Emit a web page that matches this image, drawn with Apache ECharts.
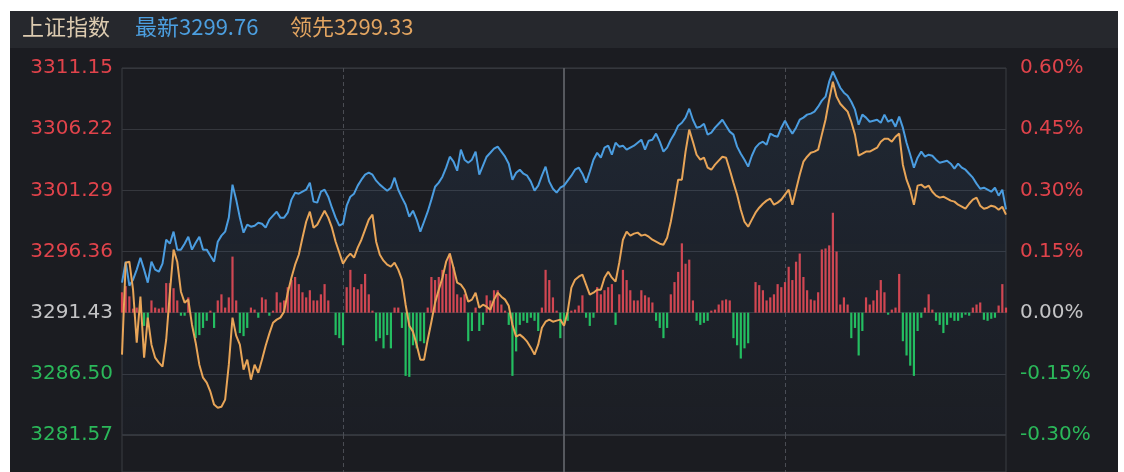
<!DOCTYPE html>
<html><head><meta charset="utf-8">
<script src="https://cdn.jsdelivr.net/npm/echarts@6/dist/echarts.min.js"></script>
<style>
html,body{margin:0;padding:0;background:#fff;width:1124px;height:472px;overflow:hidden}
#panel{position:absolute;left:10px;top:11px;width:1108px;height:461px;background:#1b1c21}
#head{position:absolute;left:10px;top:11px;width:1108px;height:37px;background:#26282d}
#chart{position:absolute;left:0;top:0;width:1124px;height:472px}
</style></head><body>
<div id="panel"></div><div id="head"></div><div id="chart"></div>
<script>
// Tick labels
const leftLabels = ['3281.57','3286.50','3291.43','3296.36','3301.29','3306.22','3311.15'];
const rightLabels = ['-0.30%','-0.15%','0.00%','0.15%','0.30%','0.45%','0.60%'];
const prevClose = 3291.43;

// 最新 (blue) price per minute
const latest = [
3293.85,3295.54,3293.61,3294.09,3294.90,3295.86,3294.90,3293.85,3295.54,3294.90,
3294.73,3295.38,3297.31,3296.99,3297.96,3296.51,3296.51,3296.99,3297.55,3296.51,
3297.07,3297.55,3296.51,3296.51,3296.02,3295.54,3297.15,3297.64,3297.96,3299.09,
3301.75,3300.54,3299.09,3297.88,3298.52,3298.36,3298.44,3298.68,3298.60,3298.28,
3298.93,3299.25,3299.57,3299.09,3299.09,3299.49,3300.54,3301.10,3301.02,3301.18,
3301.34,3301.91,3300.38,3300.30,3301.18,3301.34,3300.78,3299.89,3299.09,3298.44,
3298.60,3300.05,3300.78,3301.02,3301.67,3302.15,3302.55,3302.71,3302.55,3302.07,
3301.75,3301.50,3301.26,3301.50,3302.31,3301.34,3300.70,3300.13,3299.17,3299.65,
3298.93,3297.96,3298.76,3299.57,3300.54,3301.58,3301.91,3302.39,3303.12,3304.00,
3303.60,3302.87,3304.57,3303.76,3303.52,3303.76,3304.41,3302.55,3303.28,3304.00,
3304.32,3304.65,3304.81,3304.41,3304.00,3303.44,3302.15,3302.71,3302.95,3302.63,
3302.47,3301.99,3301.26,3301.67,3302.47,3303.20,3301.99,3301.42,3301.10,3301.50,
3301.67,3302.07,3302.47,3302.95,3303.12,3302.63,3301.91,3302.79,3303.76,3304.32,
3303.92,3304.73,3304.89,3304.16,3305.13,3304.81,3304.89,3304.57,3304.73,3304.89,
3305.13,3305.37,3304.57,3305.29,3305.37,3305.86,3305.21,3304.41,3304.73,3305.37,
3305.86,3306.50,3306.74,3307.15,3307.87,3306.98,3306.34,3306.42,3306.66,3305.78,
3305.94,3306.34,3306.66,3306.98,3306.50,3306.02,3305.78,3304.81,3304.24,3303.76,
3303.20,3304.08,3304.73,3305.05,3305.21,3304.97,3305.86,3305.69,3305.61,3306.34,
3306.90,3306.34,3305.86,3306.34,3306.98,3307.15,3307.39,3307.47,3307.63,3308.03,
3308.52,3308.84,3310.05,3310.85,3310.21,3309.56,3309.16,3308.92,3308.43,3307.79,
3306.58,3307.39,3307.15,3306.82,3306.90,3306.98,3306.74,3307.39,3306.82,3306.98,
3306.42,3307.23,3306.34,3305.13,3304.16,3303.12,3303.92,3304.41,3304.00,3304.16,
3304.08,3303.76,3303.52,3303.60,3303.68,3303.44,3303.04,3303.44,3303.12,3302.95,
3302.63,3302.31,3301.83,3301.42,3301.50,3301.34,3301.18,3301.50,3300.86,3301.34,3299.76
];

// 领先 (orange) per minute
const leading = [
3288.05,3295.46,3295.54,3293.28,3289.01,3292.72,3287.80,3291.03,3288.85,3287.80,
3287.40,3287.08,3289.25,3293.04,3296.51,3295.54,3293.12,3292.24,3292.48,3290.46,
3289.01,3287.24,3286.19,3285.79,3285.06,3284.02,3283.77,3283.85,3284.42,3287.24,
3291.03,3289.58,3288.85,3286.84,3287.64,3286.03,3287.24,3286.59,3287.64,3288.77,
3289.74,3290.62,3290.87,3291.03,3291.51,3293.04,3294.25,3295.30,3296.10,3297.47,
3298.76,3299.57,3298.28,3298.52,3299.09,3299.65,3299.09,3298.28,3297.15,3296.27,
3295.38,3295.86,3296.19,3295.86,3296.67,3297.31,3298.12,3298.93,3299.33,3297.15,
3296.10,3295.62,3295.30,3295.14,3295.46,3294.90,3294.09,3292.07,3290.38,3289.90,
3288.85,3287.64,3287.64,3289.25,3290.70,3292.24,3293.28,3294.25,3295.54,3296.19,
3295.06,3293.85,3293.69,3293.28,3292.32,3292.48,3293.04,3291.83,3292.07,3291.91,
3291.67,3292.48,3293.04,3292.72,3292.48,3291.99,3290.46,3289.50,3289.66,3289.42,
3289.09,3288.61,3288.05,3288.85,3290.22,3290.70,3290.87,3290.70,3290.79,3290.87,
3290.38,3291.51,3293.45,3294.09,3294.33,3294.49,3293.69,3292.88,3293.04,3293.28,
3293.28,3294.25,3294.73,3294.25,3293.93,3295.46,3297.31,3297.96,3297.64,3297.80,
3297.88,3297.64,3297.72,3297.55,3297.31,3297.15,3296.99,3296.91,3297.47,3298.76,
3300.38,3302.15,3302.15,3304.41,3306.18,3305.21,3304.16,3303.76,3303.92,3303.12,
3302.95,3303.36,3303.68,3304.00,3303.92,3302.95,3301.91,3300.94,3299.73,3298.76,
3298.36,3298.93,3299.49,3299.89,3300.21,3300.46,3300.62,3300.13,3300.30,3300.54,
3300.94,3301.34,3300.13,3301.34,3302.55,3303.60,3304.00,3304.32,3304.41,3304.57,
3305.78,3306.98,3308.60,3310.05,3308.84,3308.27,3307.95,3307.63,3306.82,3305.78,
3304.08,3304.24,3304.41,3304.41,3304.57,3304.73,3305.21,3305.45,3305.45,3305.21,
3305.61,3305.86,3303.36,3302.15,3301.34,3300.13,3301.67,3301.75,3301.50,3301.67,
3301.18,3300.86,3300.70,3300.78,3300.62,3300.46,3300.38,3300.13,3299.97,3299.81,
3300.21,3300.54,3300.70,3300.05,3299.81,3299.89,3300.05,3299.97,3299.73,3299.97,3299.33
];

// per-minute bars (red up / green down), arbitrary units
const flow = [
20,26,16,4,5,7,-13,-12,12,5,
4,5,29,29,24,12,-3,-3,15,0,
-25,-22,-15,-8,2,-15,12,18,5,15,
55,12,-20,-23,-15,5,3,-5,15,13,
-3,2,20,10,12,25,32,35,28,20,
15,22,12,12,18,28,12,0,-22,-25,
-32,25,42,25,23,28,38,18,2,-28,
-25,-35,-22,-35,5,5,-15,-62,-63,-32,
-35,-28,-30,5,35,32,35,42,38,58,
45,18,15,18,-28,-18,5,-18,-12,17,
12,22,22,8,2,-12,-62,-38,-12,-8,
-10,-5,-8,-18,5,42,32,15,2,-25,
-12,-8,2,3,7,17,-5,-13,-5,25,
18,22,25,28,-12,18,42,32,22,12,
12,22,17,15,10,-8,-15,-25,-15,18,
30,40,68,48,52,12,-8,-12,-10,-8,
2,3,8,12,13,12,-25,-32,-45,-35,
-30,0,30,27,22,12,15,18,28,25,
30,45,32,50,58,35,22,13,12,20,
62,63,66,98,60,8,15,8,-25,-15,
-42,-18,15,8,12,22,32,20,-2,3,
5,38,-28,-42,-52,-62,-18,-5,5,18,
3,-8,-12,-20,-12,-5,-8,-8,-5,-2,
-3,5,8,10,-7,-8,-6,-5,7,28,5
];

// minute categories 09:30-11:30, 13:00-15:00
const minutes = [];
function pad(n){return (n<10?'0':'')+n;}
for (let t = 9*60+30; t <= 11*60+30; t++) minutes.push(pad(Math.floor(t/60))+':'+pad(t%60));
for (let t = 13*60+1; t <= 15*60; t++) minutes.push(pad(Math.floor(t/60))+':'+pad(t%60));

const RED = '#e0434b', GREEN = '#2bb85a', GRAY = '#c4c4c6';
function leftColor(v){ const n = parseFloat(v); return Math.abs(n-prevClose)<0.001 ? GRAY : (n>prevClose ? RED : GREEN); }
function rightColor(v){ const n = parseFloat(v); return Math.abs(n)<0.0001 ? GRAY : (n>0 ? RED : GREEN); }

const chart = echarts.init(document.getElementById('chart'), null, {renderer:'canvas'});
const numFont = 'DejaVu Sans';
const cjk = 'Noto Sans CJK SC';
function xAx(grid, pos, intervalFn, lineStyle){
  return {type:'category', gridIndex:grid, position:pos, data:minutes, boundaryGap:false,
    axisLine:{show:false}, axisTick:{show:false}, axisLabel:{show:false},
    splitLine:{show:true, interval:intervalFn, lineStyle:lineStyle}};
}
const solidSplit = (i)=> i===120;
const dashSplit = (i)=> i===60 || i===180;
const solidStyle = {color:'#56585e', width:2};
const dashStyle = {color:'#4a4c53', width:1, type:[4,3]};
const headStyle = (c)=>({color:c, fontSize:22, fontWeight:'normal', fontFamily:cjk});

chart.setOption({
  animation:false,
  backgroundColor:'transparent',
  title:[
    {text:'上证指数', left:22, top:16, padding:0, textStyle:headStyle('#dccbb0')},
    {text:'最新'+latest[latest.length-1].toFixed(2), left:135, top:16, padding:0, textStyle:headStyle('#4c9fe0')},
    {text:'领先'+leading[leading.length-1].toFixed(2), left:290, top:16, padding:0, textStyle:headStyle('#e3a561')}
  ],
  grid:[
    {left:122, right:118, top:68, height:367, show:true, borderColor:'#3a3c42', borderWidth:1, backgroundColor:'transparent'},
    {left:122, right:118, top:435, bottom:0, show:true, borderColor:'#3a3c42', borderWidth:1, backgroundColor:'transparent'}
  ],
  xAxis:[
    xAx(0,'bottom',solidSplit,solidStyle),
    xAx(0,'top',dashSplit,dashStyle),
    xAx(1,'bottom',solidSplit,solidStyle),
    xAx(1,'top',dashSplit,dashStyle)
  ],
  yAxis:[
    {type:'value', gridIndex:0, min:3281.57, max:3311.15, show:false},
    {type:'category', gridIndex:0, position:'left', data:leftLabels, boundaryGap:false,
      axisLine:{show:false}, axisTick:{show:false},
      axisLabel:{color:leftColor, fontSize:20, fontFamily:numFont, margin:9, verticalAlign:'middle', padding:[3,0,0,0]},
      splitLine:{show:true, lineStyle:{color:'#35373d', width:1}}},
    {type:'category', gridIndex:0, position:'right', data:rightLabels, boundaryGap:false,
      axisLine:{show:false}, axisTick:{show:false},
      axisLabel:{color:rightColor, fontSize:20, fontFamily:numFont, margin:14, verticalAlign:'middle', padding:[3,0,0,0]},
      splitLine:{show:false}},
    {type:'value', gridIndex:0, min:-120, max:240, show:false},
    {type:'value', gridIndex:1, min:0, max:1, show:false}
  ],
  series:[
    {type:'bar', xAxisIndex:0, yAxisIndex:3, data:flow, barWidth:2.2, z:2,
      itemStyle:{color:(p)=> p.value>=0 ? '#d9434b' : '#22c15c'}},
    {type:'line', xAxisIndex:0, yAxisIndex:0, data:latest, showSymbol:false, z:3,
      lineStyle:{color:'#4b9de0', width:2},
      areaStyle:{origin:'start', color:new echarts.graphic.LinearGradient(0,0,0,1,[
        {offset:0, color:'rgba(70,130,195,0.17)'},{offset:1, color:'rgba(70,130,195,0.03)'}])}},
    {type:'line', xAxisIndex:0, yAxisIndex:0, data:leading, showSymbol:false, z:4,
      lineStyle:{color:'#e8a558', width:2}}
  ]
});
</script>
</body></html>
